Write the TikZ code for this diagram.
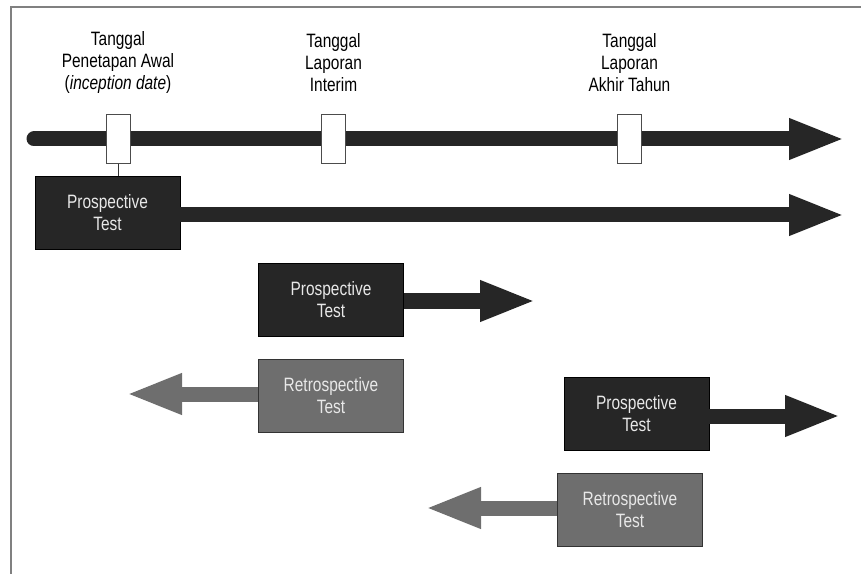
\documentclass[tikz,border=0pt]{standalone}
\usepackage{fontspec}
\setmainfont{Liberation Sans}[FakeStretch=0.8]
\usetikzlibrary{arrows.meta,positioning}
\definecolor{dark}{HTML}{262626}
\definecolor{mid}{HTML}{6E6E6E}
\definecolor{pale}{HTML}{E8E8E8}

\begin{document}
\begin{tikzpicture}[x=0.75pt, y=-0.75pt,
      font=\fontsize{14.5pt}{16.5pt}\selectfont,
      test/.style={draw, align=center, text=pale, minimum width=109pt, minimum height=55pt, inner sep=0pt},
      datebox/.style={draw=black!70, fill=white, minimum width=18pt, minimum height=36.5pt, inner sep=0pt},
      fat/.style={line width=11.25pt, -{Triangle[length=42pt, width=28pt]}}]
      \useasboundingbox (0, 0) rectangle (861, 574);
      \draw [gray, line width=1.5pt] (11, 574) -- (11, 7) -- (861, 7);
      % garis waktu
      \coordinate (t0) at (34, 139);
      \coordinate (t1) at (845, 139);
      \draw [fat, dark, line cap=round] (t0) -- (t1);
      \draw (118, 139) node (m1) [datebox] {}
            (333.5, 139) node (m2) [datebox] {}
            (629.5, 139) node (m3) [datebox] {};
      \draw (118, 63) node (l1) [align=center] {Tanggal\\Penetapan Awal\\(\textit{inception date})}
            (333.5, 63) node (l2) [align=center] {Tanggal\\Laporan\\Interim}
            (629.5, 63) node (l3) [align=center] {Tanggal\\Laporan\\Akhir Tahun};
      % pengujian
      \draw (107.5, 213) node (p1) [test, fill=dark, draw=black] {Prospective\\Test}
            (331, 300) node (p2) [test, fill=dark, draw=black] {Prospective\\Test}
            (331, 396) node (r1) [test, fill=mid, draw=black!80] {Retrospective\\Test}
            (636.5, 414) node (p3) [test, fill=dark, draw=black] {Prospective\\Test}
            (630, 510) node (r2) [test, fill=mid, draw=black!80] {Retrospective\\Test};
      \draw [black!80, thin] (m1.south) -- (m1.south |- p1.north);
      \coordinate (e1) at (845, 215);
      \coordinate (e2) at (536, 301);
      \coordinate (e3) at (126, 394);
      \coordinate (e4) at (841, 416);
      \coordinate (e5) at (425, 508);
      \draw [fat, dark] (p1.east |- e1) -- (e1);
      \draw [fat, dark] (p2.east |- e2) -- (e2);
      \draw [fat, mid] (r1.west |- e3) -- (e3);
      \draw [fat, dark] (p3.east |- e4) -- (e4);
      \draw [fat, mid] (r2.west |- e5) -- (e5);
\end{tikzpicture}
\end{document}
